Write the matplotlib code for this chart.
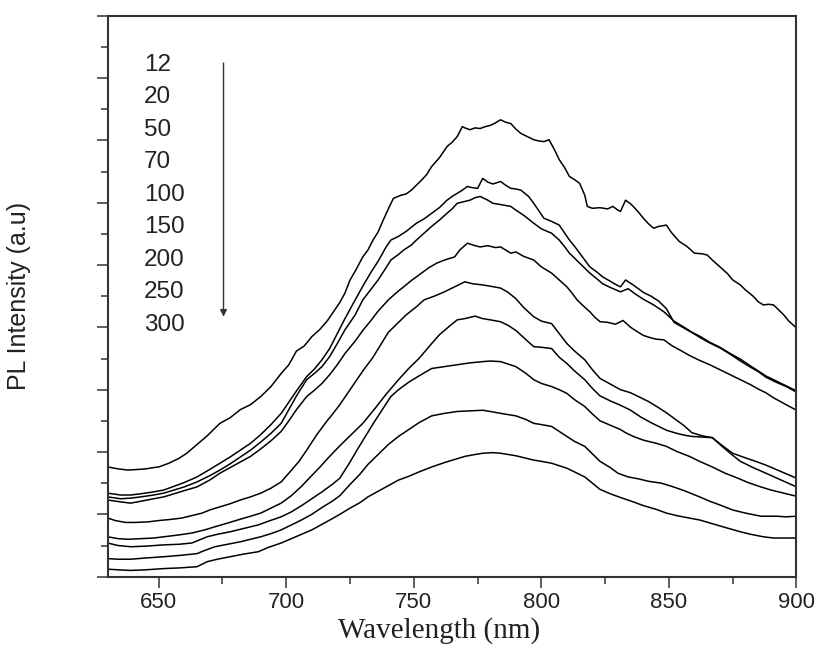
import numpy as np
import matplotlib
matplotlib.use("Agg")
import matplotlib.pyplot as plt
from matplotlib.ticker import MultipleLocator, NullFormatter

# ---------------- data ----------------
LABELS = ["12", "20", "50", "70", "100", "150", "200", "250", "300"]

wl_12 = [630, 634, 638, 642, 645, 648, 650, 654, 658, 661, 665, 669, 674, 678, 682, 686, 690, 694,
         698, 701, 704, 707, 710, 713, 716, 719, 721, 723, 725, 727, 730, 732, 734, 736, 738, 740,
         742, 745, 747, 749, 751, 753, 755, 757, 760, 763, 765, 767, 769, 770, 772, 774, 776, 778,
         780, 782, 784, 786, 788, 790, 792, 794, 797, 799, 801, 803, 805, 807, 809, 811, 813, 815,
         817, 818, 820, 823, 826, 828, 830, 831, 833, 835, 836, 838, 840, 842, 844, 846, 849, 851,
         854, 857, 860, 863, 865, 867, 870, 873, 875, 878, 880, 883, 885, 887, 889, 891, 893, 895,
         897, 900]
pl_12 = [176, 173, 171, 172, 173, 175, 176, 182, 190, 198, 212, 226, 246, 255, 268, 276, 289, 305,
         326, 340, 362, 370, 385, 396, 410, 428, 440, 455, 476, 490, 513, 524, 540, 553, 572, 590,
         607, 612, 614, 620, 628, 636, 645, 658, 672, 690, 697, 706, 722, 720, 717, 720, 719, 722,
         724, 728, 733, 729, 727, 718, 711, 707, 701, 699, 698, 701, 686, 669, 657, 642, 637, 631,
         612, 594, 591, 592, 590, 594, 588, 586, 604, 598, 594, 585, 575, 566, 559, 562, 564, 552,
         538, 530, 519, 518, 516, 508, 497, 486, 476, 468, 460, 450, 441, 436, 437, 436, 428, 420,
         410, 399]

wl_20 = [630, 635, 639, 643, 648, 652, 656, 660, 665, 670, 674, 678, 682, 686, 690, 694, 698, 701,
         704, 708, 711, 714, 717, 720, 723, 727, 730, 733, 736, 739, 741, 744, 747, 751, 754, 757,
         760, 763, 765, 767, 769, 771, 773, 775, 777, 779, 781, 784, 786, 788, 790, 792, 795, 797,
         799, 801, 804, 807, 809, 811, 813, 815, 817, 819, 822, 824, 827, 829, 831, 833, 836, 840,
         843, 846, 849, 852, 855, 858, 862, 866, 870, 874, 878, 882, 885, 888, 892, 896, 900]
pl_20 = [134, 131, 131, 133, 136, 139, 145, 151, 160, 172, 182, 192, 203, 214, 228, 244, 262, 280,
         298, 321, 333, 348, 366, 390, 414, 444, 466, 487, 506, 528, 540, 546, 554, 567, 574, 583,
         592, 604, 610, 615, 620, 626, 624, 623, 639, 633, 630, 634, 628, 623, 622, 620, 610, 599,
         587, 575, 570, 564, 552, 540, 530, 519, 508, 497, 488, 481, 474, 469, 465, 476, 468, 456,
         450, 442, 430, 408, 401, 394, 386, 376, 368, 358, 349, 338, 330, 322, 314, 306, 298]

wl_50 = [630, 635, 639, 643, 648, 652, 656, 660, 665, 670, 674, 678, 682, 686, 690, 694, 698, 701,
         704, 708, 711, 714, 717, 720, 723, 727, 730, 733, 736, 739, 741, 744, 746, 749, 751, 754,
         757, 760, 763, 765, 767, 770, 772, 774, 776, 779, 781, 784, 788, 790, 793, 797, 800, 804,
         807, 809, 811, 813, 815, 817, 819, 822, 824, 827, 831, 834, 837, 840, 844, 848, 852, 856,
         859, 862, 866, 870, 874, 878, 882, 885, 888, 892, 896, 900]
pl_50 = [128, 125, 126, 128, 131, 134, 139, 144, 152, 162, 171, 181, 192, 203, 216, 230, 246, 268,
         290, 316, 326, 337, 353, 374, 396, 420, 444, 460, 476, 495, 508, 517, 524, 532, 540, 551,
         562, 572, 583, 590, 599, 602, 604, 608, 610, 604, 599, 597, 594, 588, 580, 567, 558, 551,
         540, 530, 519, 511, 503, 495, 487, 477, 470, 464, 457, 462, 453, 445, 436, 425, 410, 400,
         392, 384, 375, 367, 357, 346, 336, 329, 320, 312, 305, 296]

wl_70 = [630, 635, 639, 643, 648, 652, 656, 660, 665, 670, 674, 678, 682, 686, 690, 694, 698, 701,
         704, 708, 711, 714, 717, 720, 723, 727, 730, 733, 736, 740, 743, 746, 749, 753, 756, 759,
         762, 766, 768, 771, 774, 776, 779, 782, 784, 786, 788, 790, 793, 797, 800, 804, 807, 810,
         812, 814, 816, 819, 821, 823, 826, 829, 832, 835, 838, 840, 843, 845, 848, 851, 855, 858,
         862, 866, 870, 874, 878, 882, 885, 888, 891, 895, 900]
pl_70 = [123, 120, 118, 121, 125, 128, 133, 138, 144, 155, 166, 175, 184, 193, 205, 218, 233, 250,
         268, 289, 299, 310, 324, 340, 358, 378, 395, 410, 426, 444, 455, 465, 475, 487, 496, 503,
         508, 513, 524, 535, 531, 529, 531, 528, 529, 524, 519, 521, 514, 508, 497, 487, 476, 465,
         455, 444, 436, 425, 416, 409, 408, 405, 411, 400, 392, 387, 383, 381, 380, 371, 362, 355,
         347, 340, 332, 324, 316, 308, 301, 295, 287, 278, 267]

wl_100 = [630, 633, 637, 641, 646, 650, 655, 659, 663, 667, 670, 674, 678, 682, 686, 690, 694, 698,
          701, 705, 708, 712, 716, 718, 721, 725, 730, 734, 737, 740, 744, 747, 751, 754, 758, 762,
          766, 770, 773, 777, 780, 784, 787, 790, 793, 797, 800, 804, 807, 810, 813, 817, 820, 823,
          827, 831, 835, 838, 842, 846, 849, 852, 856, 859, 863, 867, 871, 875, 879, 884, 888, 892,
          896, 900]
pl_100 = [94, 90, 87, 87, 88, 90, 92, 94, 98, 102, 107, 112, 117, 123, 128, 134, 142, 152,
          166, 185, 203, 228, 250, 260, 276, 300, 330, 352, 372, 392, 408, 420, 433, 444, 450, 457,
          465, 473, 470, 468, 466, 463, 456, 446, 432, 417, 410, 406, 390, 374, 362, 348, 332, 318,
          309, 300, 295, 289, 281, 271, 263, 254, 242, 231, 226, 223, 210, 198, 192, 185, 179, 172,
          165, 158]

wl_150 = [630, 634, 638, 643, 648, 652, 658, 663, 668, 672, 677, 681, 686, 690, 694, 698, 702, 706,
          709, 713, 717, 721, 725, 730, 735, 739, 744, 748, 752, 757, 760, 764, 767, 770, 774, 777,
          780, 784, 787, 790, 794, 797, 800, 804, 807, 810, 813, 817, 820, 823, 827, 831, 835, 839,
          843, 846, 849, 853, 856, 859, 863, 867, 870, 874, 878, 883, 888, 894, 900]
pl_150 = [64, 61, 60, 61, 62, 64, 67, 70, 75, 80, 86, 91, 97, 102, 110, 118, 130, 145,
          158, 175, 193, 210, 226, 246, 271, 292, 316, 334, 350, 374, 388, 402, 412, 414, 418, 414,
          412, 409, 403, 395, 380, 369, 368, 366, 352, 342, 330, 316, 302, 290, 282, 275, 267, 256,
          247, 241, 235, 230, 227, 225, 224, 223, 212, 198, 185, 175, 166, 155, 144]

wl_200 = [630, 634, 639, 645, 652, 658, 663, 666, 669, 673, 678, 683, 689, 693, 698, 702, 706, 710,
          714, 718, 721, 725, 728, 731, 734, 737, 741, 744, 748, 752, 757, 762, 767, 772, 777, 780,
          784, 787, 790, 794, 797, 800, 804, 807, 810, 813, 817, 820, 823, 827, 831, 833, 836, 840,
          845, 849, 853, 858, 862, 867, 872, 877, 881, 886, 890, 895, 900]
pl_200 = [54, 50, 48, 49, 51, 52, 54, 59, 64, 68, 72, 77, 83, 89, 96, 104, 114, 125,
          136, 148, 158, 184, 205, 225, 245, 264, 289, 300, 312, 322, 334, 337, 340, 343, 345, 346,
          345, 341, 337, 326, 316, 310, 305, 300, 294, 284, 273, 261, 250, 243, 236, 231, 225, 219,
          214, 209, 201, 193, 185, 176, 166, 158, 151, 144, 139, 134, 129]

wl_250 = [630, 634, 639, 645, 652, 658, 665, 668, 672, 677, 682, 686, 690, 694, 698, 702, 706, 710,
          714, 718, 721, 725, 729, 732, 736, 740, 744, 748, 752, 757, 762, 767, 772, 777, 780, 784,
          787, 790, 794, 797, 800, 804, 807, 810, 813, 817, 820, 823, 827, 830, 834, 838, 842, 847,
          851, 856, 862, 866, 870, 875, 880, 886, 892, 896, 900]
pl_250 = [29, 28, 28, 30, 32, 34, 37, 42, 48, 52, 56, 60, 64, 69, 75, 83, 91, 100,
          111, 121, 130, 148, 165, 180, 196, 212, 225, 236, 247, 258, 262, 265, 266, 267, 265, 262,
          260, 258, 252, 246, 244, 241, 233, 225, 217, 209, 197, 185, 175, 166, 160, 157, 153, 150,
          145, 138, 128, 121, 115, 107, 102, 97, 97, 96, 97]

wl_300 = [630, 634, 639, 645, 652, 658, 665, 667, 669, 673, 678, 683, 689, 693, 698, 702, 706, 710,
          714, 718, 721, 725, 729, 732, 736, 740, 744, 748, 752, 757, 762, 766, 770, 774, 777, 781,
          784, 787, 790, 794, 797, 800, 804, 807, 810, 813, 817, 820, 823, 827, 831, 836, 840, 845,
          849, 853, 858, 862, 867, 872, 878, 882, 887, 891, 896, 900]
pl_300 = [12, 11, 10, 11, 13, 14, 16, 20, 24, 28, 32, 36, 40, 47, 54, 61, 68, 75,
          84, 93, 100, 110, 119, 128, 137, 146, 155, 161, 168, 176, 183, 188, 193, 196, 198, 199,
          198, 196, 194, 190, 187, 185, 182, 178, 174, 168, 160, 150, 140, 133, 127, 120, 114, 108,
          102, 98, 94, 91, 85, 79, 72, 68, 64, 62, 62, 62]

SERIES = [
    (wl_12, pl_12), (wl_20, pl_20), (wl_50, pl_50), (wl_70, pl_70), (wl_100, pl_100),
    (wl_150, pl_150), (wl_200, pl_200), (wl_250, pl_250), (wl_300, pl_300),
]

# ---------------- figure ----------------
SANS = ["Liberation Sans", "DejaVu Sans"]
SERIF = ["Liberation Serif", "DejaVu Serif"]

fig = plt.figure(figsize=(8.14, 6.62), dpi=100)
ax = fig.add_axes([0.1323, 0.1289, 0.8462, 0.8474])

for wl, pl in SERIES:
    ax.plot(wl, pl, color="black", lw=1.1)

ax.set_xlim(630, 900)
ax.set_ylim(0, 900)

ax.xaxis.set_major_locator(MultipleLocator(50))
ax.xaxis.set_minor_locator(MultipleLocator(25))
ax.yaxis.set_major_locator(MultipleLocator(100))
ax.yaxis.set_minor_locator(MultipleLocator(50))
ax.yaxis.set_major_formatter(NullFormatter())

ax.tick_params(axis="both", which="major", direction="out", length=8, width=1.1, color="#333333")
ax.tick_params(axis="both", which="minor", direction="out", length=5, width=1.1, color="#333333")
ax.tick_params(axis="x", which="major", pad=3)
for lab in ax.get_xticklabels():
    lab.set_fontfamily(SANS)
    lab.set_fontsize(16)
    lab.set_color("#222222")

for sp in ax.spines.values():
    sp.set_linewidth(1.5)
    sp.set_color("#333333")

ax.set_xlabel("Wavelength (nm)", fontsize=21, family=SERIF, color="#222222", labelpad=3)
ax.xaxis.label.set_x(0.481)
ax.set_ylabel("PL Intensity (a.u)", fontsize=18, family=SANS, color="#222222", labelpad=44)

# temperature list with downward arrow
label_y = np.linspace(821, 404, len(LABELS))
for txt, yy in zip(LABELS, label_y):
    ax.text(644.2, yy, txt, fontsize=17.5, family=SANS, ha="left", va="center", color="#222222")

ax.annotate("", xy=(675.4, 417), xytext=(675.4, 824),
            arrowprops=dict(arrowstyle="-|>", color="#333333", lw=1.0,
                            mutation_scale=10, shrinkA=0, shrinkB=0))

fig.savefig("out.png", dpi=100)
